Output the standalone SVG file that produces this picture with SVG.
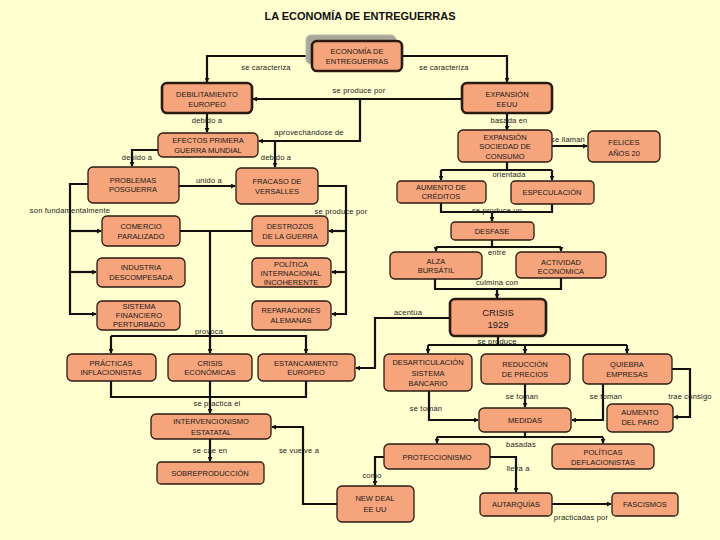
<svg xmlns="http://www.w3.org/2000/svg" width="720" height="540" viewBox="0 0 720 540">
<defs>
<style>
.bg{fill:#FFFFD0}
.n{fill:#F6A47B;stroke:#2a1a10;stroke-width:1.3}
.k{stroke-width:2.6}
.t{font-family:"Liberation Sans",Arial,sans-serif;font-size:7.5px;fill:#1a1a1a;text-anchor:middle}
.big{font-size:9.5px}
.l{font-family:"Liberation Sans",Arial,sans-serif;font-size:7.5px;fill:#1a1a1a;text-anchor:middle;letter-spacing:0.2px}
.c{fill:none;stroke:#111;stroke-width:2.2}
.title{font-family:"Liberation Sans",Arial,sans-serif;font-size:11px;font-weight:bold;fill:#111;text-anchor:middle}
</style>
<marker id="a" viewBox="0 0 6 6" refX="5" refY="3" markerWidth="5" markerHeight="5" orient="auto" markerUnits="userSpaceOnUse"><path d="M0,0 L6,3 L0,6z" fill="#111"/></marker>
</defs>
<rect class="bg" x="0" y="0" width="720" height="540"/>
<text class="title" x="360" y="20">LA ECONOMÍA DE ENTREGUERRAS</text>

<g id="connectors">
<path class="c" d="M312,56 H207 V82" marker-end="url(#a)"/>
<path class="c" d="M402,56 H507 V82" marker-end="url(#a)"/>
<path class="c" d="M462,99 H253" marker-end="url(#a)"/>
<path class="c" d="M360,99 V141 H259" marker-end="url(#a)"/>
<path class="c" d="M275,141 V167" marker-end="url(#a)"/>
<path class="c" d="M207,113 V132" marker-end="url(#a)"/>
<path class="c" d="M507,113 V130" marker-end="url(#a)"/>
<path class="c" d="M158,150 H132 V166" marker-end="url(#a)"/>
<path class="c" d="M552,146 H587" marker-end="url(#a)"/>
<path class="c" d="M507,162 V170 M441,170 H552"/>
<path class="c" d="M441,170 V180" marker-end="url(#a)"/>
<path class="c" d="M552,170 V180" marker-end="url(#a)"/>
<path class="c" d="M441,203 V212 H552 V204"/>
<path class="c" d="M492,212 V221" marker-end="url(#a)"/>
<path class="c" d="M492,240 V247 M436,247 H561"/>
<path class="c" d="M436,247 V251" marker-end="url(#a)"/>
<path class="c" d="M561,247 V251" marker-end="url(#a)"/>
<path class="c" d="M435,279 V289 H561 V278"/>
<path class="c" d="M497,289 V298" marker-end="url(#a)"/>
<path class="c" d="M450,318 H375 V368 H356" marker-end="url(#a)"/>
<path class="c" d="M498,336 V345 M428,345 H627"/>
<path class="c" d="M428,345 V353" marker-end="url(#a)"/>
<path class="c" d="M525,345 V353" marker-end="url(#a)"/>
<path class="c" d="M627,345 V353" marker-end="url(#a)"/>
<path class="c" d="M525,384 V407" marker-end="url(#a)"/>
<path class="c" d="M603,384 V420 H572" marker-end="url(#a)"/>
<path class="c" d="M672,369 H690 V417 H674" marker-end="url(#a)"/>
<path class="c" d="M429,391 V420 H478" marker-end="url(#a)"/>
<path class="c" d="M525,432 V437 M437,437 H603"/>
<path class="c" d="M437,437 V443" marker-end="url(#a)"/>
<path class="c" d="M603,437 V443" marker-end="url(#a)"/>
<path class="c" d="M490,457 H516 V492" marker-end="url(#a)"/>
<path class="c" d="M384,457 H375 V485" marker-end="url(#a)"/>
<path class="c" d="M552,504 H611" marker-end="url(#a)"/>
<path class="c" d="M337,504 H303 V427 H272" marker-end="url(#a)"/>
<path class="c" d="M210,439 V461" marker-end="url(#a)"/>
<path class="c" d="M111,381 V397 H306 V381"/>
<path class="c" d="M210,381 V413" marker-end="url(#a)"/>
<path class="c" d="M180,231 H252"/>
<path class="c" d="M210,231 V353" marker-end="url(#a)"/>
<path class="c" d="M111,336 H306 V353" marker-end="url(#a)"/>
<path class="c" d="M111,336 V353" marker-end="url(#a)"/>
<path class="c" d="M88,184 H70 V314 H96" marker-end="url(#a)"/>
<path class="c" d="M70,231 H101" marker-end="url(#a)"/>
<path class="c" d="M70,272 H96" marker-end="url(#a)"/>
<path class="c" d="M179,186 H235" marker-end="url(#a)"/>
<path class="c" d="M318,186 H346 V314 H332" marker-end="url(#a)"/>
<path class="c" d="M346,231 H329" marker-end="url(#a)"/>
<path class="c" d="M346,272 H332" marker-end="url(#a)"/>
</g>

<g id="labels">
<text class="l" x="266" y="70">se caracteriza</text>
<text class="l" x="444" y="70">se caracteriza</text>
<text class="l" x="359" y="93">se produce por</text>
<text class="l" x="207" y="123">debido a</text>
<text class="l" x="509" y="123">basada en</text>
<text class="l" x="309" y="135">aprovechándose de</text>
<text class="l" x="568" y="142">se llaman</text>
<text class="l" x="137" y="160">debido a</text>
<text class="l" x="276" y="160">debido a</text>
<text class="l" x="509" y="177">orientada</text>
<text class="l" x="209" y="183">unido a</text>
<text class="l" x="70" y="213">son fundamentalmente</text>
<text class="l" x="341" y="214">se produce por</text>
<text class="l" x="497" y="213">se produce un</text>
<text class="l" x="497" y="255">entre</text>
<text class="l" x="497" y="285">culmina con</text>
<text class="l" x="408" y="315">acentúa</text>
<text class="l" x="209" y="334">provoca</text>
<text class="l" x="497" y="344">se produce</text>
<text class="l" x="522" y="399">se toman</text>
<text class="l" x="606" y="399">se toman</text>
<text class="l" x="690" y="399">trae consigo</text>
<text class="l" x="217" y="406">se practica el</text>
<text class="l" x="426" y="411">se toman</text>
<text class="l" x="521" y="447">basadas</text>
<text class="l" x="210" y="453">se cae en</text>
<text class="l" x="299" y="453">se vuelve a</text>
<text class="l" x="518" y="471">lleva a</text>
<text class="l" x="372" y="478">como</text>
<text class="l" x="581" y="520">practicadas por</text>
</g>

<g id="n-economia">
<rect x="306" y="35" width="90" height="29" rx="5" fill="#A9A898" stroke="#B8B8A8" stroke-width="1"/>
<rect class="n k" x="312" y="41" width="90" height="30" rx="5"/>
<text class="t"><tspan x="357" y="53.6">ECONOMÍA DE</tspan><tspan x="357" y="63.6">ENTREGUERRAS</tspan></text>
</g>
<g id="n-debilitamiento"><rect class="n k" x="162" y="83" width="90" height="30" rx="5"/>
<text class="t"><tspan x="207" y="96.6">DEBILITAMIENTO</tspan><tspan x="207" y="106.6">EUROPEO</tspan></text></g>
<g id="n-expansion-eeuu"><rect class="n k" x="462" y="83" width="90" height="30" rx="5"/>
<text class="t"><tspan x="507" y="96.6">EXPANSIÓN</tspan><tspan x="507" y="106.6">EEUU</tspan></text></g>
<g id="n-efectos"><rect class="n" x="158" y="133" width="100" height="24" rx="5"/>
<text class="t"><tspan x="208" y="142.6">EFECTOS PRIMERA</tspan><tspan x="208" y="152.6">GUERRA MUNDIAL</tspan></text></g>
<g id="n-sociedad"><rect class="n" x="458" y="130" width="94" height="32" rx="5"/>
<text class="t"><tspan x="505" y="139.6">EXPANSIÓN</tspan><tspan x="505" y="148.6">SOCIEDAD DE</tspan><tspan x="505" y="158.6">CONSUMO</tspan></text></g>
<g id="n-felices"><rect class="n" x="588" y="131" width="72" height="31" rx="5"/>
<text class="t"><tspan x="624" y="144.6">FELICES</tspan><tspan x="624" y="155.6">AÑOS 20</tspan></text></g>
<g id="n-problemas"><rect class="n" x="88" y="167" width="91" height="36" rx="5"/>
<text class="t"><tspan x="133" y="182.6">PROBLEMAS</tspan><tspan x="133" y="191.6">POSGUERRA</tspan></text></g>
<g id="n-fracaso"><rect class="n" x="236" y="168" width="82" height="36" rx="5"/>
<text class="t"><tspan x="277" y="183.6">FRACASO DE</tspan><tspan x="277" y="193.6">VERSALLES</tspan></text></g>
<g id="n-aumento-creditos"><rect class="n" x="397" y="181" width="89" height="22" rx="4"/>
<text class="t"><tspan x="441" y="189.6">AUMENTO DE</tspan><tspan x="441" y="198.6">CRÉDITOS</tspan></text></g>
<g id="n-especulacion"><rect class="n" x="511" y="181" width="83" height="23" rx="4"/>
<text class="t"><tspan x="552" y="194.6">ESPECULACIÓN</tspan></text></g>
<g id="n-comercio"><rect class="n" x="102" y="216" width="78" height="30" rx="5"/>
<text class="t"><tspan x="141" y="228.6">COMERCIO</tspan><tspan x="141" y="238.6">PARALIZADO</tspan></text></g>
<g id="n-destrozos"><rect class="n" x="252" y="216" width="76" height="30" rx="5"/>
<text class="t"><tspan x="290" y="228.6">DESTROZOS</tspan><tspan x="290" y="238.6">DE LA GUERRA</tspan></text></g>
<g id="n-desfase"><rect class="n" x="451" y="222" width="83" height="18" rx="4"/>
<text class="t"><tspan x="492" y="233.6">DESFASE</tspan></text></g>
<g id="n-industria"><rect class="n" x="97" y="258" width="88" height="29" rx="5"/>
<text class="t"><tspan x="141" y="269.6">INDUSTRIA</tspan><tspan x="141" y="279.6">DESCOMPESADA</tspan></text></g>
<g id="n-politica"><rect class="n" x="252" y="258" width="79" height="29" rx="5"/>
<text class="t"><tspan x="291" y="266.6">POLÍTICA</tspan><tspan x="291" y="275.6">INTERNACIONAL</tspan><tspan x="291" y="284.6">INCOHERENTE</tspan></text></g>
<g id="n-alza"><rect class="n" x="390" y="252" width="92" height="27" rx="5"/>
<text class="t"><tspan x="436" y="263.6">ALZA</tspan><tspan x="436" y="272.6">BURSÁTIL</tspan></text></g>
<g id="n-actividad"><rect class="n" x="516" y="252" width="90" height="26" rx="5"/>
<text class="t"><tspan x="561" y="264.6">ACTIVIDAD</tspan><tspan x="561" y="273.6">ECONÓMICA</tspan></text></g>
<g id="n-sistema"><rect class="n" x="97" y="301" width="83" height="29" rx="5"/>
<text class="t"><tspan x="139" y="308.6">SISTEMA</tspan><tspan x="139" y="317.6">FINANCIERO</tspan><tspan x="139" y="327.1">PERTURBADO</tspan></text></g>
<g id="n-reparaciones"><rect class="n" x="252" y="301" width="79" height="29" rx="5"/>
<text class="t"><tspan x="291" y="312.6">REPARACIONES</tspan><tspan x="291" y="322.6">ALEMANAS</tspan></text></g>
<g id="n-crisis1929"><rect class="n k" x="450" y="299" width="96" height="37" rx="5"/>
<text class="t big"><tspan x="498" y="316.4">CRISIS</tspan><tspan x="498" y="328.4">1929</tspan></text></g>
<g id="n-practicas"><rect class="n" x="67" y="354" width="89" height="27" rx="5"/>
<text class="t"><tspan x="111" y="365.6">PRÁCTICAS</tspan><tspan x="111" y="374.6">INFLACIONISTAS</tspan></text></g>
<g id="n-crisis-economicas"><rect class="n" x="168" y="354" width="84" height="27" rx="5"/>
<text class="t"><tspan x="210" y="365.6">CRISIS</tspan><tspan x="210" y="374.6">ECONÓMICAS</tspan></text></g>
<g id="n-estancamiento"><rect class="n" x="258" y="354" width="97" height="27" rx="5"/>
<text class="t"><tspan x="306" y="365.6">ESTANCAMIENTO</tspan><tspan x="306" y="374.6">EUROPEO</tspan></text></g>
<g id="n-desarticulacion"><rect class="n" x="384" y="354" width="88" height="37" rx="5"/>
<text class="t"><tspan x="428" y="364.6">DESARTICULACIÓN</tspan><tspan x="428" y="375.6">SISTEMA</tspan><tspan x="428" y="385.6">BANCARIO</tspan></text></g>
<g id="n-reduccion"><rect class="n" x="481" y="354" width="89" height="30" rx="5"/>
<text class="t"><tspan x="525" y="366.6">REDUCCIÓN</tspan><tspan x="525" y="376.6">DE PRECIOS</tspan></text></g>
<g id="n-quiebra"><rect class="n" x="583" y="354" width="89" height="30" rx="5"/>
<text class="t"><tspan x="627" y="366.6">QUIEBRA</tspan><tspan x="627" y="376.6">EMPRESAS</tspan></text></g>
<g id="n-paro"><rect class="n" x="607" y="404" width="66" height="28" rx="5"/>
<text class="t"><tspan x="640" y="414.6">AUMENTO</tspan><tspan x="640" y="424.6">DEL PARO</tspan></text></g>
<g id="n-medidas"><rect class="n" x="479" y="408" width="92" height="24" rx="5"/>
<text class="t"><tspan x="525" y="422.6">MEDIDAS</tspan></text></g>
<g id="n-intervencionismo"><rect class="n" x="151" y="414" width="120" height="25" rx="5"/>
<text class="t"><tspan x="211" y="423.6">INTERVENCIONISMO</tspan><tspan x="211" y="434.6">ESTATATAL</tspan></text></g>
<g id="n-proteccionismo"><rect class="n" x="384" y="444" width="106" height="25" rx="5"/>
<text class="t"><tspan x="437" y="459.6">PROTECCIONISMO</tspan></text></g>
<g id="n-deflacionistas"><rect class="n" x="552" y="444" width="102" height="25" rx="5"/>
<text class="t"><tspan x="603" y="454.6">POLÍTICAS</tspan><tspan x="603" y="464.6">DEFLACIONISTAS</tspan></text></g>
<g id="n-sobreproduccion"><rect class="n" x="157" y="462" width="107" height="22" rx="4"/>
<text class="t"><tspan x="210" y="475.6">SOBREPRODUCCIÓN</tspan></text></g>
<g id="n-newdeal"><rect class="n" x="337" y="486" width="77" height="36" rx="5"/>
<text class="t"><tspan x="375" y="500.6">NEW DEAL</tspan><tspan x="375" y="511.6">EE UU</tspan></text></g>
<g id="n-autarquias"><rect class="n" x="480" y="493" width="72" height="23" rx="4"/>
<text class="t"><tspan x="516" y="506.6">AUTARQUÍAS</tspan></text></g>
<g id="n-fascismos"><rect class="n" x="612" y="493" width="66" height="23" rx="4"/>
<text class="t"><tspan x="645" y="506.6">FASCISMOS</tspan></text></g>
</svg>
